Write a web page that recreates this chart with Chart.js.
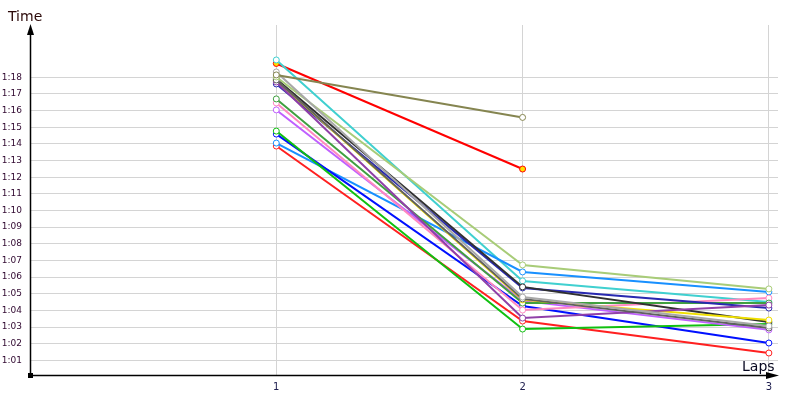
<!DOCTYPE html>
<html><head><meta charset="utf-8">
<script src="https://cdn.jsdelivr.net/npm/chart.js@4/dist/chart.umd.min.js"></script>
<style>html,body{margin:0;padding:0;background:#fff}#wrap{width:800px;height:400px}</style>
</head><body><div id="wrap"><canvas id="c" width="800" height="400"></canvas></div>
<script>
// Lap numbers and y tick values (seconds)
const laps = [1, 2, 3];
const yTicks = [61,62,63,64,65,66,67,68,69,70,71,72,73,74,75,76,77,78];

// Lap times in seconds, one array per driver
const tCyan      = [79.04, 65.77, 64.50];
const tRedYellow = [78.83, 72.49];
const tOlive     = [78.14, 75.59];
const tGray      = [78.32, 64.80, 63.06];
const tLime      = [78.02, 66.73, 65.29];
const tBlack     = [77.90, 65.41, 63.30];
const tSlate     = [77.84, 64.69, 62.94];
const tPurple    = [77.72, 63.54, 64.32];
const tNavy      = [77.60, 65.35, 64.14];
const tYellow    = [77.80, 64.63, 63.42];
const tGreen     = [76.70, 64.44, 64.44];
const tPink      = [76.46, 64.02, 64.74];
const tViolet    = [76.04, 64.57, 62.83];
const tLimeGreen = [74.77, 62.88, 63.18];
const tBlue      = [74.59, 64.26, 62.04];
const tSky       = [74.05, 66.31, 65.11];
const tRed       = [73.87, 63.36, 61.44];

const series = [
  {d: tOlive, c: '#858550'},
  {d: tGray, c: '#a8a8a8'},
  {d: tLime, c: '#a8cc78'},
  {d: tSlate, c: '#606060'},
  {d: tPurple, c: '#9040a8'},
  {d: tYellow, c: '#f0e000'},
  {d: tBlack, c: '#303030'},
  {d: tNavy, c: '#2828b0'},
  {d: tGreen, c: '#40a040'},
  {d: tPink, c: '#ff88c0'},
  {d: tViolet, c: '#c060ff'},
  {d: tLimeGreen, c: '#10c010'},
  {d: tBlue, c: '#0010ff'},
  {d: tSky, c: '#1890ff'},
  {d: tRed, c: '#ff2020'},
  {d: tCyan, c: '#40d0d0'},
  {d: tRedYellow, c: '#ff0000', f: '#ffe000'}
];

function fmt(v){ const m = Math.floor(v/60); const s = Math.round(v - m*60); return m + ':' + String(s).padStart(2,'0'); }

const datasets = series.map(s => ({
  data: s.d.map((v,i) => ({x: laps[i], y: v})),
  borderColor: s.c,
  backgroundColor: s.f || '#ffffff',
  pointBackgroundColor: s.f || '#ffffff',
  pointBorderColor: s.c,
  pointRadius: 3,
  pointBorderWidth: 1,
  borderWidth: 2,
  tension: 0,
  fill: false
}));

const axesPlugin = {
  id: 'axesDeco',
  afterDraw(chart){
    const ctx = chart.ctx, ca = chart.chartArea;
    ctx.save();
    ctx.strokeStyle = '#000'; ctx.fillStyle = '#000'; ctx.lineWidth = 1.5;
    const x0 = 30.5, y0 = 375.5;
    ctx.beginPath(); ctx.moveTo(x0, y0); ctx.lineTo(x0, 30); ctx.stroke();
    ctx.beginPath(); ctx.moveTo(x0, y0); ctx.lineTo(772, y0); ctx.stroke();
    // arrowheads
    ctx.beginPath(); ctx.moveTo(x0, 24); ctx.lineTo(x0-3.5, 35); ctx.lineTo(x0+3.5, 35); ctx.closePath(); ctx.fill();
    ctx.beginPath(); ctx.moveTo(779, y0); ctx.lineTo(766, y0-3.5); ctx.lineTo(766, y0+3.5); ctx.closePath(); ctx.fill();
    ctx.fillRect(28, 373, 5, 5);
    ctx.font = '14px "DejaVu Sans"';
    ctx.fillStyle = '#2a0808';
    ctx.textBaseline = 'alphabetic'; ctx.textAlign = 'left';
    ctx.fillText('Time', 8, 21);
    ctx.fillStyle = '#080820';
    ctx.fillText('Laps', 742, 371);
    ctx.restore();
  }
};

new Chart(document.getElementById('c'), {
  type: 'line',
  data: {datasets},
  options: {
    responsive: false, animation: false, devicePixelRatio: 1,
    layout: {padding: {top: 25, right: 22, left: 0, bottom: 0}},
    plugins: {legend: {display: false}, tooltip: {enabled: false}},
    scales: {
      x: {
        type: 'linear', min: 0, max: 3.037,
        afterBuildTicks: s => { s.ticks = laps.map(v => ({value: v})); },
        afterFit: s => { s.height = 25; },
        grid: {color: '#d4d4d4', drawTicks: false, lineWidth: 1},
        border: {display: false},
        ticks: {padding: 6, color: '#202050', font: {family: 'DejaVu Sans', size: 10}, callback: v => String(v)}
      },
      y: {
        type: 'linear', min: 60.12, max: 81.14,
        afterBuildTicks: s => { s.ticks = yTicks.map(v => ({value: v})); },
        afterFit: s => { s.width = 30; },
        grid: {color: '#d4d4d4', drawTicks: false, lineWidth: 1},
        border: {display: false},
        ticks: {padding: 8, color: '#300830', font: {family: 'DejaVu Sans', size: 9}, callback: v => fmt(v)}
      }
    }
  },
  plugins: [axesPlugin]
});
</script>
</body></html>
